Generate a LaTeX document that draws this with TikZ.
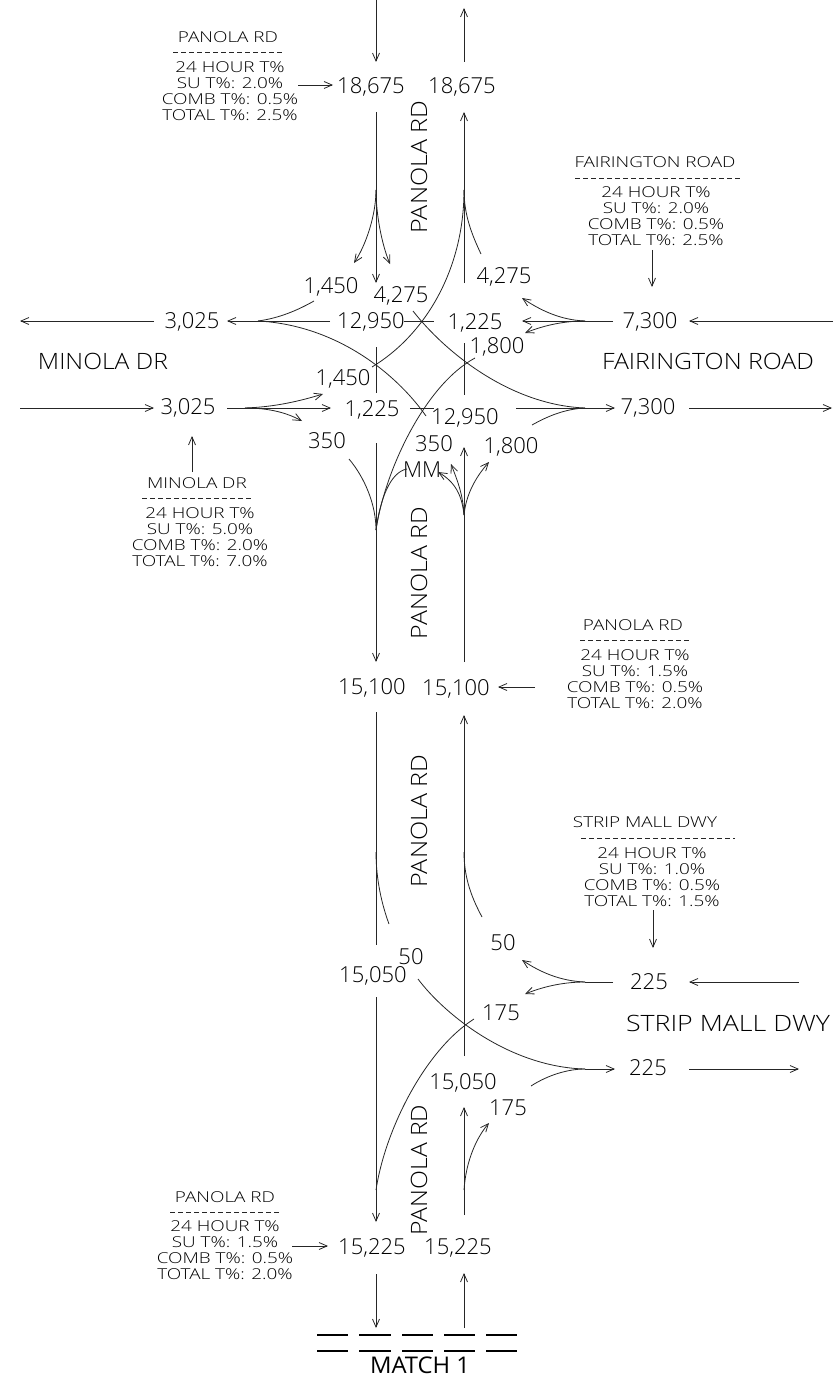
\documentclass[tikz,border=0pt]{standalone}
\usepackage{fontspec}
\usepackage{graphicx}
\setmainfont{Open Sans}[UprightFont=* Light,BoldFont=*]
\newfontfamily\numfont{Open Sans}[UprightFont=* Light]
\newfontfamily\roadfont{Open Sans}[UprightFont=* Light]
\newfontfamily\tabfont{Open Sans}[UprightFont=* Light,FakeStretch=1.26]
\newfontfamily\matchfont{Open Sans}
\usetikzlibrary{arrows.meta}
\newcommand{\fitw}[2]{\resizebox{#1pt}{\height}{#2}}
\tikzset{
  x=1pt,y=-1pt,
  road/.style={line width=0.8pt,black!85},
  arr/.style={road,-{Straight Barb[length=8pt,width=7pt,line width=0.8pt]}},
  num/.style={inner sep=0pt,text=black,font=\numfont\fontsize{22}{24}\selectfont},
  rname/.style={inner sep=0pt,text=black,font=\roadfont\fontsize{22.5}{24}\selectfont},
  ttl/.style={inner sep=0pt,text=black,font=\tabfont\fontsize{15}{16}\selectfont},
  tbl/.style={inner sep=0pt,align=center,text=black,font=\tabfont\fontsize{15}{16}\selectfont},
  dashln/.style={line width=0.8pt,black!85,dash pattern=on 5pt off 3pt},
  mline/.style={line width=1.6pt,black},
}
\newcommand{\tbody}[1]{24 HOUR T\%\\SU T\%: #1\\}
\begin{document}
\begin{tikzpicture}
\useasboundingbox (0,0) rectangle (833,1380);
% --- labels ---
\node[num] (nA) at (371,87) {18,675};
\node[num] (nB) at (462,87) {18,675};
\node[num] (nC) at (331,287) {1,450};
\node[num] (nD) at (401,296) {4,275};
\node[num] (nE) at (504,277) {4,275};
\node[num] (nF) at (371,322) {12,950};
\node[num] (nG) at (475,323) {1,225};
\node[num] (nH) at (497,347) {1,800};
\node[num] (nI) at (343,379) {1,450};
\node[num] (nJ) at (372,410) {1,225};
\node[num] (nK) at (465,418) {12,950};
\node[num] (nL) at (327,441) {350};
\node[num] (nM) at (434,444) {350};
\node[num] (nN) at (511,447) {1,800};
\node[num] (nO) at (422,470) {MM};
\node[num] (nP) at (192,322) {3,025};
\node[num] (nQ) at (188,408) {3,025};
\node[num] (nR) at (650,322) {7,300};
\node[num] (nS) at (648,408) {7,300};
\node[num] (nT) at (372,688) {15,100};
\node[num] (nU) at (456,689) {15,100};
\node[num] (nV) at (373,976) {15,050};
\node[num] (nW) at (411,957) {50};
\node[num] (nX) at (503,943) {50};
\node[num] (nY) at (501,1013) {175};
\node[num] (nZ) at (463,1083) {15,050};
\node[num] (oA) at (508,1108) {175};
\node[num] (oB) at (649,982) {225};
\node[num] (oC) at (648,1068) {225};
\node[num] (oD) at (372,1248) {15,225};
\node[num] (oE) at (458,1248) {15,225};
\node[rname] (rA) at (103,361) {\fitw{130}{MINOLA DR}};
\node[rname] (rB) at (708,361) {\fitw{212}{FAIRINGTON ROAD}};
\node[rname] (rC) at (728,1023) {\fitw{204}{STRIP MALL DWY}};
\node[rname,rotate=90] (rD) at (419,167) {\fitw{133}{PANOLA RD}};
\node[rname,rotate=90] (rE) at (419,573) {\fitw{132}{PANOLA RD}};
\node[rname,rotate=90] (rF) at (419,821) {\fitw{133}{PANOLA RD}};
\node[rname,rotate=90] (rG) at (419,1170) {\fitw{131}{PANOLA RD}};
\node[inner sep=0pt,text=black,font=\matchfont\fontsize{23}{24}\selectfont] (rH) at (420,1365) {\fitw{100}{MATCH 1}};
% --- tables ---
\node[ttl] (t1) at (228,37) {PANOLA RD};
\coordinate (t1a) at (173,52.5); \coordinate (t1b) at (284,52.5);
\node[tbl] (b1) at (230,91) {\tbody{2.0\%}COMB T\%: 0.5\%\\TOTAL T\%: 2.5\%};
\node[ttl] (t2) at (655,162) {FAIRINGTON ROAD};
\coordinate (t2a) at (575,178); \coordinate (t2b) at (740,178);
\node[tbl] (b2) at (656,216) {\tbody{2.0\%}COMB T\%: 0.5\%\\TOTAL T\%: 2.5\%};
\node[ttl] (t3) at (197,483) {MINOLA DR};
\coordinate (t3a) at (142,498); \coordinate (t3b) at (252,498);
\node[tbl] (b3) at (200,537) {\tbody{5.0\%}COMB T\%: 2.0\%\\TOTAL T\%: 7.0\%};
\node[ttl] (t4) at (633,625) {PANOLA RD};
\coordinate (t4a) at (580,640); \coordinate (t4b) at (690,640);
\node[tbl] (b4) at (635,679) {\tbody{1.5\%}COMB T\%: 0.5\%\\TOTAL T\%: 2.0\%};
\node[ttl] (t5) at (645,822) {STRIP MALL DWY};
\coordinate (t5a) at (581,838); \coordinate (t5b) at (735,838);
\node[tbl] (b5) at (652,877) {\tbody{1.0\%}COMB T\%: 0.5\%\\TOTAL T\%: 1.5\%};
\node[ttl] (t6) at (225,1197) {PANOLA RD};
\coordinate (t6a) at (170,1212); \coordinate (t6b) at (280,1212);
\node[tbl] (b6) at (225,1250) {\tbody{1.5\%}COMB T\%: 0.5\%\\TOTAL T\%: 2.0\%};
\foreach \i in {1,...,6} \draw[dashln] (t\i a) -- (t\i b);
% --- coordinates: table leaders ---
\coordinate (l1a) at (298,85);  \coordinate (l1b) at (333,85);
\coordinate (l2a) at (652,250); \coordinate (l2b) at (652,287);
\coordinate (l3a) at (192,472); \coordinate (l3b) at (192,436);
\coordinate (l4a) at (535,687); \coordinate (l4b) at (498,687);
\coordinate (l5a) at (653,910); \coordinate (l5b) at (653,948);
\coordinate (l6a) at (292,1246);\coordinate (l6b) at (328,1246);
\foreach \i in {1,...,6} \draw[arr] (l\i a) -- (l\i b);
% --- coordinates: roadway ---
\coordinate (s0) at (376,0);   \coordinate (s1) at (376,62);
\coordinate (s2) at (376,112); \coordinate (s3) at (376,283);
\coordinate (s4) at (376,190);
\coordinate (s5) at (376,347); \coordinate (s6) at (376,393);
\coordinate (s7) at (376,443); \coordinate (s8) at (376,662);
\coordinate (s9) at (376,530);
\coordinate (s10) at (376,712);\coordinate (s11) at (376,945);
\coordinate (s12) at (376,852);
\coordinate (s13) at (376,997);\coordinate (s14) at (376,1222);
\coordinate (s15) at (376,1190);
\coordinate (s16) at (376,1274);\coordinate (s17) at (376,1328);
\coordinate (n0) at (464,62);  \coordinate (n1) at (464,8);
\coordinate (n2) at (464,283); \coordinate (n3) at (464,112);
\coordinate (n4) at (464,190);
\coordinate (n5) at (464,343); \coordinate (n6) at (464,395);
\coordinate (n7) at (464,662); \coordinate (n8) at (464,447);
\coordinate (n9) at (464,515);
\coordinate (n10) at (464,1056);\coordinate (n11) at (464,715);
\coordinate (n12) at (464,852);
\coordinate (n13) at (464,1215);\coordinate (n14) at (464,1107);
\coordinate (n15) at (464,1190);
\coordinate (n16) at (464,1328);\coordinate (n17) at (464,1273);
\coordinate (w1) at (154,321); \coordinate (w2) at (20,321);
\coordinate (w3) at (330,321); \coordinate (w4) at (227,321);
\coordinate (w5) at (404,321); \coordinate (w6) at (434,321);
\coordinate (w7) at (613,321); \coordinate (w8) at (522,321);
\coordinate (w9) at (833,321); \coordinate (w10) at (689,321);
\coordinate (w11) at (258,321); \coordinate (w12) at (585,321);
\coordinate (e1) at (20,408);  \coordinate (e2) at (154,408);
\coordinate (e3) at (227,408); \coordinate (e4) at (331,408);
\coordinate (e5) at (410,408); \coordinate (e6) at (434,408);
\coordinate (e7) at (516,408); \coordinate (e8) at (615,408);
\coordinate (e9) at (689,408); \coordinate (e10) at (832,408);
\coordinate (e11) at (245,408); \coordinate (e12) at (585,408);
\coordinate (g1) at (799,982); \coordinate (g2) at (689,982);
\coordinate (g3) at (689,1069);\coordinate (g4) at (799,1069);
\coordinate (g5) at (613,982); \coordinate (g6) at (585,982);
\coordinate (g8) at (615,1069);
\coordinate (g9) at (585,1069);
% straight runs
\draw[arr] (s0) -- (s1);
\draw[arr] (n0) -- (n1);
\draw[arr] (s2) -- (s3);
\draw[arr] (n2) -- (n3);
\draw[road] (s5) -- (s6);
\draw[road] (n5) -- (n6);
\draw[arr] (s7) -- (s8);
\draw[arr] (n7) -- (n8);
\draw[road] (s10) -- (s11);
\draw[arr] (n10) -- (n11);
\draw[arr] (s13) -- (s14);
\draw[arr] (n13) -- (n14);
\draw[arr] (s16) -- (s17);
\draw[arr] (n16) -- (n17);
\draw[arr] (w1) -- (w2);
\draw[arr] (w3) -- (w4);
\draw[road] (w5) -- (w6);
\draw[arr] (w7) -- (w8);
\draw[arr] (w9) -- (w10);
\draw[arr] (e1) -- (e2);
\draw[arr] (e3) -- (e4);
\draw[road] (e5) -- (e6);
\draw[arr] (e7) -- (e8);
\draw[arr] (e9) -- (e10);
\draw[arr] (g1) -- (g2);
\draw[road] (g5) -- (g6);
\draw[arr] (g9) -- (g8);
\draw[arr] (g3) -- (g4);
% curves, upper intersection
\coordinate (c1) at (354,263); \coordinate (c2) at (390,264); \coordinate (c3) at (481,254);
\coordinate (c4) at (372,367); \coordinate (c5) at (314,301); \coordinate (c6) at (426,416);
\coordinate (c7) at (413,311); \coordinate (c8) at (522,298); \coordinate (c9) at (525,333);
\coordinate (c10) at (475,358); \coordinate (c11) at (323,394); \coordinate (c12) at (302,421);
\coordinate (c13) at (532,425); \coordinate (c14) at (349,459); \coordinate (c15) at (407,469);
\coordinate (c16) at (489,462); \coordinate (c17) at (438,472); \coordinate (c18) at (451,464);
\draw[arr] (s4) .. controls (376,215) and (366,245) .. (c1);
\draw[arr] (s4) .. controls (376,215) and (382,245) .. (c2);
\draw[road] (n4) .. controls (464,215) and (472,235) .. (c3);
\draw[road] (n4) .. controls (464,270) and (425,335) .. (c4);
\draw[road] (w11) .. controls (280,318) and (298,310) .. (c5);
\draw[road] (w11) .. controls (335,325) and (395,372) .. (c6);
\draw[road] (c7) .. controls (445,352) and (510,405) .. (e12);
\draw[arr] (w12) .. controls (560,320) and (540,310) .. (c8);
\draw[arr] (w12) .. controls (560,321) and (540,327) .. (c9);
\draw[road] (c10) .. controls (425,385) and (385,470) .. (s9);
\draw[arr] (e11) .. controls (275,407) and (300,401) .. (c11);
\draw[arr] (e11) .. controls (270,408) and (287,413) .. (c12);
\draw[road] (c13) .. controls (548,416) and (565,409) .. (e12);
\draw[road] (c14) .. controls (365,478) and (376,505) .. (s9);
\draw[road] (c15) .. controls (390,472) and (380,500) .. (s9);
\draw[arr] (n9) .. controls (466,495) and (475,478) .. (c16);
\draw[arr] (n9) .. controls (462,495) and (455,482) .. (c17);
\draw[arr] (n9) .. controls (463,495) and (458,482) .. (c18);
% curves, lower intersection
\coordinate (d1) at (482,917); \coordinate (d2) at (389,924); \coordinate (d3) at (418,979);
\coordinate (d4) at (474,1019); \coordinate (d5) at (522,960); \coordinate (d6) at (525,994);
\coordinate (d7) at (531,1086); \coordinate (d8) at (489,1123);
\draw[road] (n12) .. controls (464,880) and (473,900) .. (d1);
\draw[road] (s12) .. controls (376,880) and (382,905) .. (d2);
\draw[road] (d3) .. controls (445,1015) and (510,1067) .. (g9);
\draw[road] (d4) .. controls (425,1050) and (385,1130) .. (s15);
\draw[arr] (g6) .. controls (560,981) and (540,972) .. (d5);
\draw[arr] (g6) .. controls (560,982) and (540,988) .. (d6);
\draw[road] (d7) .. controls (548,1075) and (568,1069) .. (g9);
\draw[arr] (n15) .. controls (466,1160) and (477,1137) .. (d8);
% match line
\foreach \a/\b [count=\i] in {317/348,359/391,402/433,444/475,486/517}{
  \coordinate (mt\i a) at (\a,1335); \coordinate (mt\i b) at (\b,1335);
  \coordinate (mb\i a) at (\a,1351); \coordinate (mb\i b) at (\b,1351);
  \draw[mline] (mt\i a) -- (mt\i b);
  \draw[mline] (mb\i a) -- (mb\i b);
}
\end{tikzpicture}
\end{document}
